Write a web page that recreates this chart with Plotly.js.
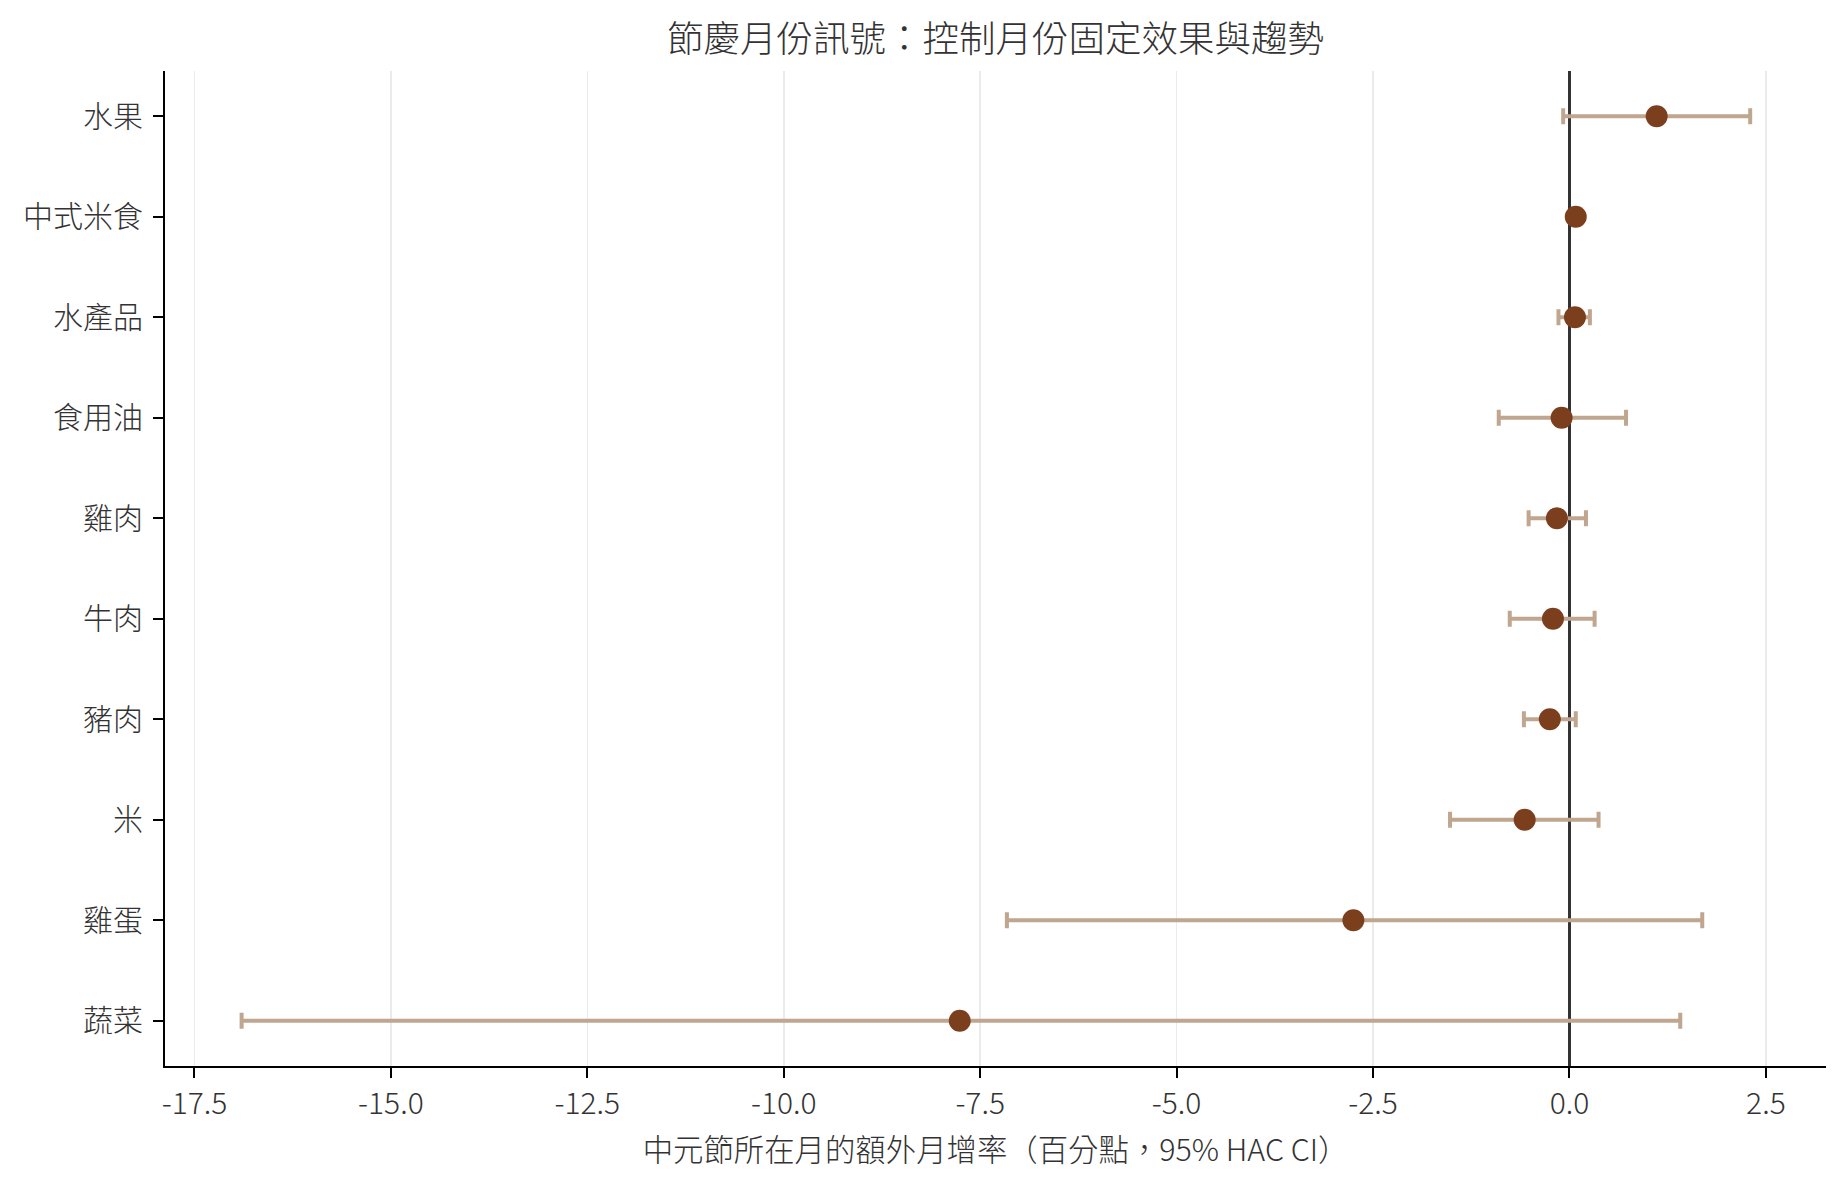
<!DOCTYPE html>
<html>
<head>
<meta charset="utf-8">
<script src="https://cdn.plot.ly/plotly-3.0.1.min.js"></script>
<style>html,body{margin:0;padding:0;background:#fff;}#chart{width:1847px;height:1190px;}</style>
</head>
<body>
<div id="chart"></div>
<script>
const categories = ["水果","中式米食","水產品","食用油","雞肉","牛肉","豬肉","米","雞蛋","蔬菜"];
const estimates  = [1.11, 0.08, 0.07, -0.10, -0.16, -0.21, -0.25, -0.57, -2.75, -7.76];
const ciLow      = [-0.08, 0.03, -0.14, -0.90, -0.52, -0.76, -0.58, -1.52, -7.16, -16.90];
const ciHigh     = [2.30, 0.13, 0.26, 0.72, 0.21, 0.32, 0.08, 0.37, 1.69, 1.41];
const xTickVals  = [-17.5, -15, -12.5, -10, -7.5, -5, -2.5, 0, 2.5];
const xTickText  = ["-17.5","-15.0","-12.5","-10.0","-7.5","-5.0","-2.5","0.0","2.5"];

const errPlus  = estimates.map((v, i) => ciHigh[i] - v);
const errMinus = estimates.map((v, i) => v - ciLow[i]);

const FONT = '"Noto Sans CJK TC Light", "Noto Sans CJK TC", "Noto Sans CJK SC", sans-serif';

const trace = {
  type: 'scatter',
  mode: 'markers',
  x: estimates,
  y: categories,
  marker: {color: '#7b3f1e', size: 22, line: {width: 0}},
  error_x: {
    type: 'data', symmetric: false,
    array: errPlus, arrayminus: errMinus,
    color: '#c0a58f', thickness: 4, width: 8
  },
  hoverinfo: 'x+y',
  showlegend: false
};

const layout = {
  width: 1847, height: 1190,
  paper_bgcolor: '#ffffff', plot_bgcolor: '#ffffff',
  margin: {l: 165, r: 21, t: 71, b: 124},
  font: {family: FONT, size: 30, color: '#333333', weight: 300},
  title: {
    text: '節慶月份訊號：控制月份固定效果與趨勢',
    font: {family: FONT, size: 36.5, color: '#333333', weight: 300},
    x: 0.5, xanchor: 'center', xref: 'paper',
    y: 1 - 39/1190, yref: 'container', yanchor: 'middle'
  },
  xaxis: {
    range: [-17.875, 3.265],
    tickmode: 'array', tickvals: xTickVals, ticktext: xTickText,
    showgrid: true, gridcolor: '#ebebeb', gridwidth: 1.5,
    zeroline: true, zerolinecolor: '#333333', zerolinewidth: 2.2,
    showline: true, linecolor: '#000000', linewidth: 2, mirror: false,
    ticks: 'outside', ticklen: 10, tickwidth: 2, tickcolor: '#000000',
    tickfont: {family: FONT, size: 30, color: '#333333', weight: 300},
    title: {
      text: '中元節所在月的額外月增率（百分點，95% HAC CI）',
      font: {family: FONT, size: 30.4, color: '#333333', weight: 300},
      standoff: 18
    },
    automargin: false,
    fixedrange: true
  },
  yaxis: {
    type: 'category',
    categoryorder: 'array', categoryarray: categories,
    range: [9.45, -0.45],
    showgrid: false, zeroline: false,
    showline: true, linecolor: '#000000', linewidth: 2, mirror: false,
    ticks: 'outside', ticklen: 10, tickwidth: 2, tickcolor: '#000000',
    tickfont: {family: FONT, size: 30, color: '#333333', weight: 300},
    ticklabelstandoff: 4,
    automargin: false,
    fixedrange: true
  }
};

Plotly.newPlot('chart', [trace], layout, {staticPlot: true, displayModeBar: false});
</script>
</body>
</html>
